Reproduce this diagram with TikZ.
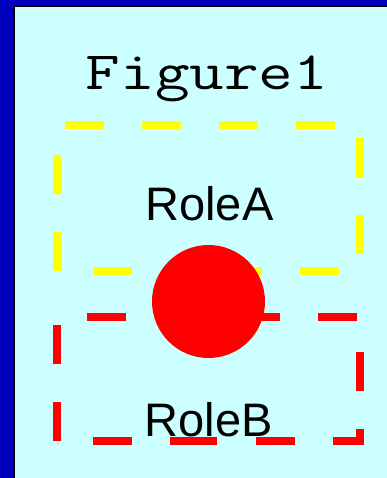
\documentclass[tikz,border=0pt]{standalone}
\usepackage{fontspec}
\usepackage{graphicx}
\setmainfont{Liberation Sans}
\definecolor{bgblue}{RGB}{0,0,190}
\definecolor{bgcyan}{RGB}{204,255,255}
\definecolor{dashyellow}{RGB}{255,255,0}
\definecolor{dashred}{RGB}{255,0,0}
\begin{document}
\begin{tikzpicture}[x=1pt,y=-1pt,
  yellowbox/.style={draw=dashyellow,line width=8pt,
    dash pattern=on 39pt off 38pt on 39pt off 38pt on 39pt off 38pt on 39pt off 38pt on 39pt off 38pt on 39pt off 38pt on 39pt off 38pt on 39pt off 38pt on 39pt off 38pt on 39pt off 91pt on 39pt off 36pt},
  redbox/.style={draw=dashred,line width=8pt,
    dash pattern=on 39pt off 38pt on 39pt off 38pt on 39pt off 38pt on 39pt off 38pt on 39pt off 38pt on 39pt off 38pt on 39pt off 38pt on 39pt off 38pt on 39pt off 39pt on 47pt off 38pt on 39pt off 36pt},
  rolelabel/.style={anchor=base,inner sep=0pt,font=\fontsize{47}{47}\selectfont},
  titlelabel/.style={anchor=base,inner sep=0pt,font=\ttfamily\fontsize{54}{54}\selectfont}]
\useasboundingbox (0,0) rectangle (387,478);
\fill[bgblue] (0,0) rectangle (387,478);
\begin{scope}
\clip (0,0) rectangle (387,478);
\draw[black,line width=2pt,fill=bgcyan] (14.3,6.3) rectangle (400,490);
\end{scope}
\node[titlelabel] (title) at (207,90) {\scalebox{1.245}[1]{Figure1}};
\draw[yellowbox] (57,271) -- (57,125) -- (360,125) -- (360,271) -- cycle;
\node[rolelabel] (roleA) at (209.5,220) {RoleA};
\draw[redbox] (57,441) -- (57,317) -- (360,317) -- (360,441) -- cycle;
\node[circle,fill=dashred,minimum size=113pt,inner sep=0pt] (dot) at (208.5,301.5) {};
\node[rolelabel] (roleB) at (208.7,436) {RoleB};
\end{tikzpicture}
\end{document}
